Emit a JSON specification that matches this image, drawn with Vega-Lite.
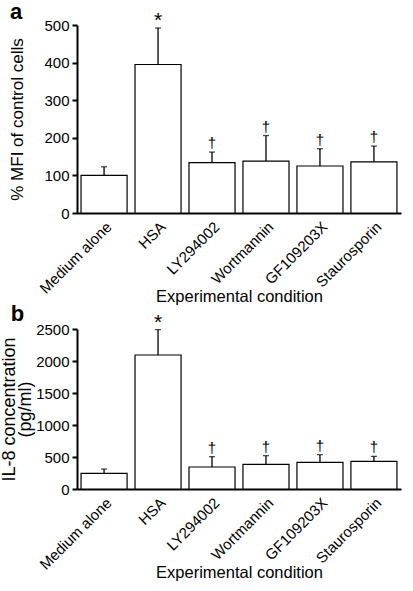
{
  "$schema": "https://vega.github.io/schema/vega-lite/v6.json",
  "padding": {"left": 0, "top": 1, "right": 10, "bottom": 3},
  "background": "white",
  "spacing": -3,
  "config": {
    "font": "Liberation Sans",
    "view": {"stroke": null},
    "axis": {"grid": false, "domainColor": "black", "tickColor": "black", "labelColor": "black", "titleColor": "black", "labelFontSize": 15, "titleFontSize": 18, "titleFontWeight": "normal", "domainWidth": 2, "tickWidth": 2, "labelFont": "Liberation Sans", "titleFont": "Liberation Sans"},
    "axisX": {"labelFontSize": 15, "titleFontSize": 16.5},
    "title": {"fontSize": 22, "fontWeight": "bold", "anchor": "start", "frame": "bounds", "color": "black", "font": "Liberation Sans", "baseline": "alphabetic"}
  },
  "vconcat": [
    {
      "title": {"text": "a", "offset": -14, "dx": 1},
      "width": 324,
      "height": 188,
      "data": {"values": [
        {"condition": "Medium alone", "value": 100, "err": 123, "mark": ""},
        {"condition": "HSA", "value": 395, "err": 492, "mark": "*"},
        {"condition": "LY294002", "value": 134, "err": 162, "mark": "†"},
        {"condition": "Wortmannin", "value": 138, "err": 206, "mark": "†"},
        {"condition": "GF109203X", "value": 125, "err": 171, "mark": "†"},
        {"condition": "Staurosporin", "value": 136, "err": 178, "mark": "†"}
      ]},
      "encoding": {
        "x": {"field": "condition", "type": "nominal", "sort": null, "title": "Experimental condition",
              "scale": {"paddingInner": 0.147, "paddingOuter": 0.075},
              "axis": {"labelAngle": -45, "ticks": false, "labelPadding": 6, "titlePadding": -8}},
        "y": {"field": "value", "type": "quantitative", "title": "% MFI of control cells",
              "scale": {"domain": [0, 500]}, "axis": {"values": [0, 100, 200, 300, 400, 500], "tickSize": 5, "labelPadding": 3, "titlePadding": 17, "titleFontSize": 17, "format": "d"}}
      },
      "layer": [
        {"mark": {"type": "bar", "fill": "white", "stroke": "black", "strokeWidth": 1.2}},
        {"mark": {"type": "rule", "color": "black", "strokeWidth": 1.3},
         "encoding": {"y2": {"field": "err"}}},
        {"mark": {"type": "tick", "color": "black", "thickness": 1.3, "size": 6},
         "encoding": {"y": {"field": "err", "type": "quantitative"}}},
        {"transform": [{"filter": "datum.mark == '†'"}],
         "mark": {"type": "text", "baseline": "alphabetic", "dy": -4, "fontSize": 15, "fill": "#000000"},
         "encoding": {"y": {"field": "err", "type": "quantitative"}, "text": {"field": "mark"}}},
        {"transform": [{"filter": "datum.mark == '*'"}],
         "mark": {"type": "text", "baseline": "alphabetic", "dy": -1, "fontSize": 21, "fill": "#000000"},
         "encoding": {"y": {"field": "err", "type": "quantitative"}, "text": {"field": "mark"}}}
      ]
    },
    {
      "title": {"text": "b", "offset": -14, "dx": 10},
      "width": 324,
      "height": 160,
      "data": {"values": [
        {"condition": "Medium alone", "value": 245, "err": 312, "mark": ""},
        {"condition": "HSA", "value": 2094, "err": 2490, "mark": "*"},
        {"condition": "LY294002", "value": 344, "err": 505, "mark": "†"},
        {"condition": "Wortmannin", "value": 385, "err": 521, "mark": "†"},
        {"condition": "GF109203X", "value": 417, "err": 537, "mark": "†"},
        {"condition": "Staurosporin", "value": 432, "err": 510, "mark": "†"}
      ]},
      "encoding": {
        "x": {"field": "condition", "type": "nominal", "sort": null, "title": "Experimental condition",
              "scale": {"paddingInner": 0.147, "paddingOuter": 0.075},
              "axis": {"labelAngle": -45, "ticks": false, "labelPadding": 6, "titlePadding": -8}},
        "y": {"field": "value", "type": "quantitative", "title": ["IL-8 concentration", "(pg/ml)"],
              "scale": {"domain": [0, 2500]}, "axis": {"values": [0, 500, 1000, 1500, 2000, 2500], "tickSize": 5, "labelPadding": 3, "titlePadding": 1, "titleLineHeight": 16, "format": "d"}}
      },
      "layer": [
        {"mark": {"type": "bar", "fill": "white", "stroke": "black", "strokeWidth": 1.2}},
        {"mark": {"type": "rule", "color": "black", "strokeWidth": 1.3},
         "encoding": {"y2": {"field": "err"}}},
        {"mark": {"type": "tick", "color": "black", "thickness": 1.3, "size": 6},
         "encoding": {"y": {"field": "err", "type": "quantitative"}}},
        {"transform": [{"filter": "datum.mark == '†'"}],
         "mark": {"type": "text", "baseline": "alphabetic", "dy": -4, "fontSize": 15, "fill": "#000000"},
         "encoding": {"y": {"field": "err", "type": "quantitative"}, "text": {"field": "mark"}}},
        {"transform": [{"filter": "datum.mark == '*'"}],
         "mark": {"type": "text", "baseline": "alphabetic", "dy": -1, "fontSize": 21, "fill": "#000000"},
         "encoding": {"y": {"field": "err", "type": "quantitative"}, "text": {"field": "mark"}}}
      ]
    }
  ]
}
